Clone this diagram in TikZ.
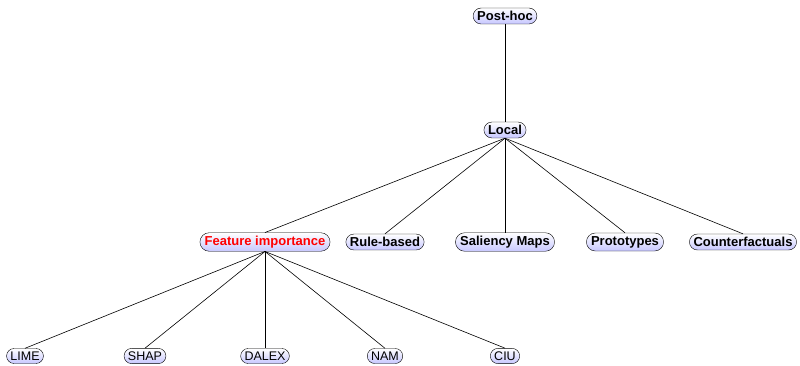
\documentclass[tikz,border=0pt]{standalone}
\usepackage{fontspec}
\setsansfont{Liberation Sans}
\usetikzlibrary{shapes.misc}

\begin{document}
\begin{tikzpicture}[x=1pt, y=-1pt,
        topic/.style={draw, rounded rectangle, top color=white, bottom color=blue!22,
            inner xsep=2.5pt, inner ysep=3.2pt, font=\fontsize{13}{15}\selectfont\sffamily\bfseries},
        method/.style={topic, font=\fontsize{12.5}{15}\selectfont\sffamily},
        edge/.style={line width=0.6pt}
    ]
        \useasboundingbox (0,0) rectangle (800,365);

        % root and second level
        \node[topic] (posthoc) at (505, 16) {Post-hoc};
        \node[topic] (local) at (505, 130) {Local};

        % kinds of local explanations
        \node[topic, text=red] (featimp) at (265, 242) {Feature importance};
        \node[topic] (rules) at (385, 242) {Rule-based};
        \node[topic] (saliency) at (505, 242) {Saliency Maps};
        \node[topic] (proto) at (625, 242) {Prototypes};
        \node[topic] (counter) at (743, 242) {Counterfactuals};

        % feature importance methods
        \node[method] (lime) at (25, 356) {LIME};
        \node[method] (shap) at (145, 356) {SHAP};
        \node[method] (dalex) at (265, 356) {DALEX};
        \node[method] (nam) at (385, 356) {NAM};
        \node[method] (ciu) at (505, 356) {CIU};

        \draw[edge] (posthoc.south) -- (local.north);
        \foreach \k in {featimp, rules, saliency, proto, counter}
            \draw[edge] (local.south) -- (\k.north);
        \foreach \m in {lime, shap, dalex, nam, ciu}
            \draw[edge] (featimp.south) -- (\m.north);
    \end{tikzpicture}
\end{document}
